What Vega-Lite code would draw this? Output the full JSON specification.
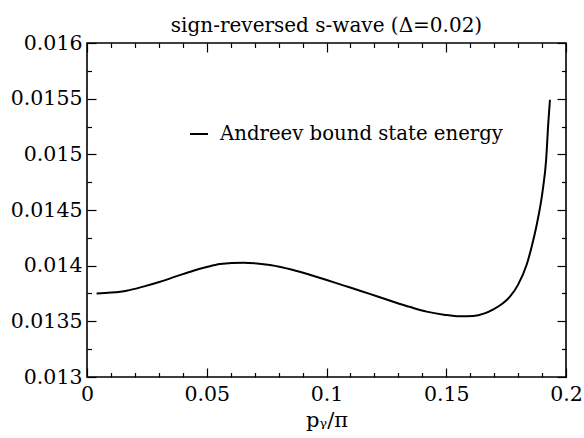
{
  "$schema": "https://vega.github.io/schema/vega-lite/v6.json",
  "width": 479,
  "height": 334,
  "autosize": {"type": "none"},
  "padding": {"left": 87, "top": 43, "right": 18, "bottom": 61},
  "background": "white",
  "config": {
    "view": {"stroke": "black", "strokeWidth": 1.6},
    "font": "DejaVu Serif",
    "axis": {"grid": false, "domain": false, "tickColor": "black", "tickWidth": 1.2, "labelColor": "black", "titleColor": "black", "labelFont": "DejaVu Serif", "titleFont": "DejaVu Serif", "titleFontWeight": "normal"}
  },
  "title": {"text": "sign-reversed s-wave (Δ=0.02)", "fontSize": 20, "font": "DejaVu Serif", "fontWeight": "normal", "anchor": "middle", "offset": -3, "color": "black"},
  "datasets": {
    "curve": [
      {"p": 0.004, "e": 0.01375},
      {"p": 0.010, "e": 0.013758},
      {"p": 0.0166, "e": 0.013775},
      {"p": 0.0235, "e": 0.013812},
      {"p": 0.0305, "e": 0.013856},
      {"p": 0.0375, "e": 0.013906},
      {"p": 0.0444, "e": 0.013955},
      {"p": 0.0500, "e": 0.013988},
      {"p": 0.0555, "e": 0.014015},
      {"p": 0.0605, "e": 0.014025},
      {"p": 0.0653, "e": 0.014027},
      {"p": 0.0710, "e": 0.014020},
      {"p": 0.0764, "e": 0.014006},
      {"p": 0.0861, "e": 0.013961},
      {"p": 0.0930, "e": 0.013918},
      {"p": 0.1001, "e": 0.013871},
      {"p": 0.1070, "e": 0.013823},
      {"p": 0.1140, "e": 0.013775},
      {"p": 0.1210, "e": 0.013725},
      {"p": 0.1279, "e": 0.013676},
      {"p": 0.1350, "e": 0.013628},
      {"p": 0.1418, "e": 0.013587},
      {"p": 0.1490, "e": 0.013560},
      {"p": 0.1557, "e": 0.013545},
      {"p": 0.1613, "e": 0.013548},
      {"p": 0.1660, "e": 0.013572},
      {"p": 0.1697, "e": 0.013608},
      {"p": 0.1735, "e": 0.013660},
      {"p": 0.1766, "e": 0.013721},
      {"p": 0.1800, "e": 0.013830},
      {"p": 0.1836, "e": 0.014010},
      {"p": 0.1860, "e": 0.014200},
      {"p": 0.1878, "e": 0.014370},
      {"p": 0.1903, "e": 0.014680},
      {"p": 0.1917, "e": 0.014949},
      {"p": 0.1926, "e": 0.015279},
      {"p": 0.1933, "e": 0.015490}
    ]
  },
  "data": {"name": "curve"},
  "layer": [
    {
      "mark": {"type": "line", "strokeWidth": 2, "interpolate": "monotone"},
      "encoding": {
        "x": {"field": "p", "type": "quantitative", "scale": {"domain": [0, 0.2], "nice": false, "zero": false},
          "axis": {"orient": "bottom", "values": [0, 0.05, 0.1, 0.15, 0.2], "format": "~g", "tickSize": -9, "labelFontSize": 20.5, "labelPadding": 16, "labelFlush": false, "labelOverlap": false, "title": "pᵧ/π", "titleFontSize": 21, "titlePadding": 5}},
        "y": {"field": "e", "type": "quantitative", "scale": {"domain": [0.013, 0.016], "nice": false, "zero": false},
          "axis": {"orient": "left", "values": [0.013, 0.0135, 0.014, 0.0145, 0.015, 0.0155, 0.016], "format": "~g", "tickSize": -9, "labelFontSize": 20.5, "labelPadding": 14, "labelFlush": false, "labelOverlap": false, "title": null}},
        "color": {"datum": "Andreev bound state energy", "scale": {"range": ["black"]},
          "legend": {"orient": "none", "legendX": 102, "legendY": 81, "title": null, "symbolType": "stroke", "symbolSize": 324, "symbolStrokeWidth": 2, "labelFontSize": 19.7, "labelFont": "DejaVu Serif", "labelColor": "black", "labelOffset": 11, "labelLimit": 400, "padding": 0}}
      }
    },
    {
      "mark": {"type": "line", "strokeOpacity": 0},
      "encoding": {
        "x": {"field": "p", "type": "quantitative", "axis": {"orient": "top", "values": [0, 0.05, 0.1, 0.15, 0.2], "tickSize": -9, "labels": false, "title": null}},
        "y": {"field": "e", "type": "quantitative", "axis": {"orient": "right", "values": [0.013, 0.0135, 0.014, 0.0145, 0.015, 0.0155, 0.016], "tickSize": -9, "labels": false, "title": null}}
      }
    },
    {
      "mark": {"type": "line", "strokeOpacity": 0},
      "encoding": {
        "x": {"field": "p", "type": "quantitative", "axis": {"orient": "bottom", "values": [0.01, 0.02, 0.03, 0.04, 0.06, 0.07, 0.08, 0.09, 0.11, 0.12, 0.13, 0.14, 0.16, 0.17, 0.18, 0.19], "tickSize": -4.5, "labels": false, "title": null}},
        "y": {"field": "e", "type": "quantitative", "axis": {"orient": "left", "values": [0.01325, 0.01375, 0.01425, 0.01475, 0.01525, 0.01575], "tickSize": -4.5, "labels": false, "title": null}}
      }
    },
    {
      "mark": {"type": "line", "strokeOpacity": 0},
      "encoding": {
        "x": {"field": "p", "type": "quantitative", "axis": {"orient": "top", "values": [0.01, 0.02, 0.03, 0.04, 0.06, 0.07, 0.08, 0.09, 0.11, 0.12, 0.13, 0.14, 0.16, 0.17, 0.18, 0.19], "tickSize": -4.5, "labels": false, "title": null}},
        "y": {"field": "e", "type": "quantitative", "axis": {"orient": "right", "values": [0.01325, 0.01375, 0.01425, 0.01475, 0.01525, 0.01575], "tickSize": -4.5, "labels": false, "title": null}}
      }
    }
  ],
  "resolve": {"axis": {"x": "independent", "y": "independent"}}
}
